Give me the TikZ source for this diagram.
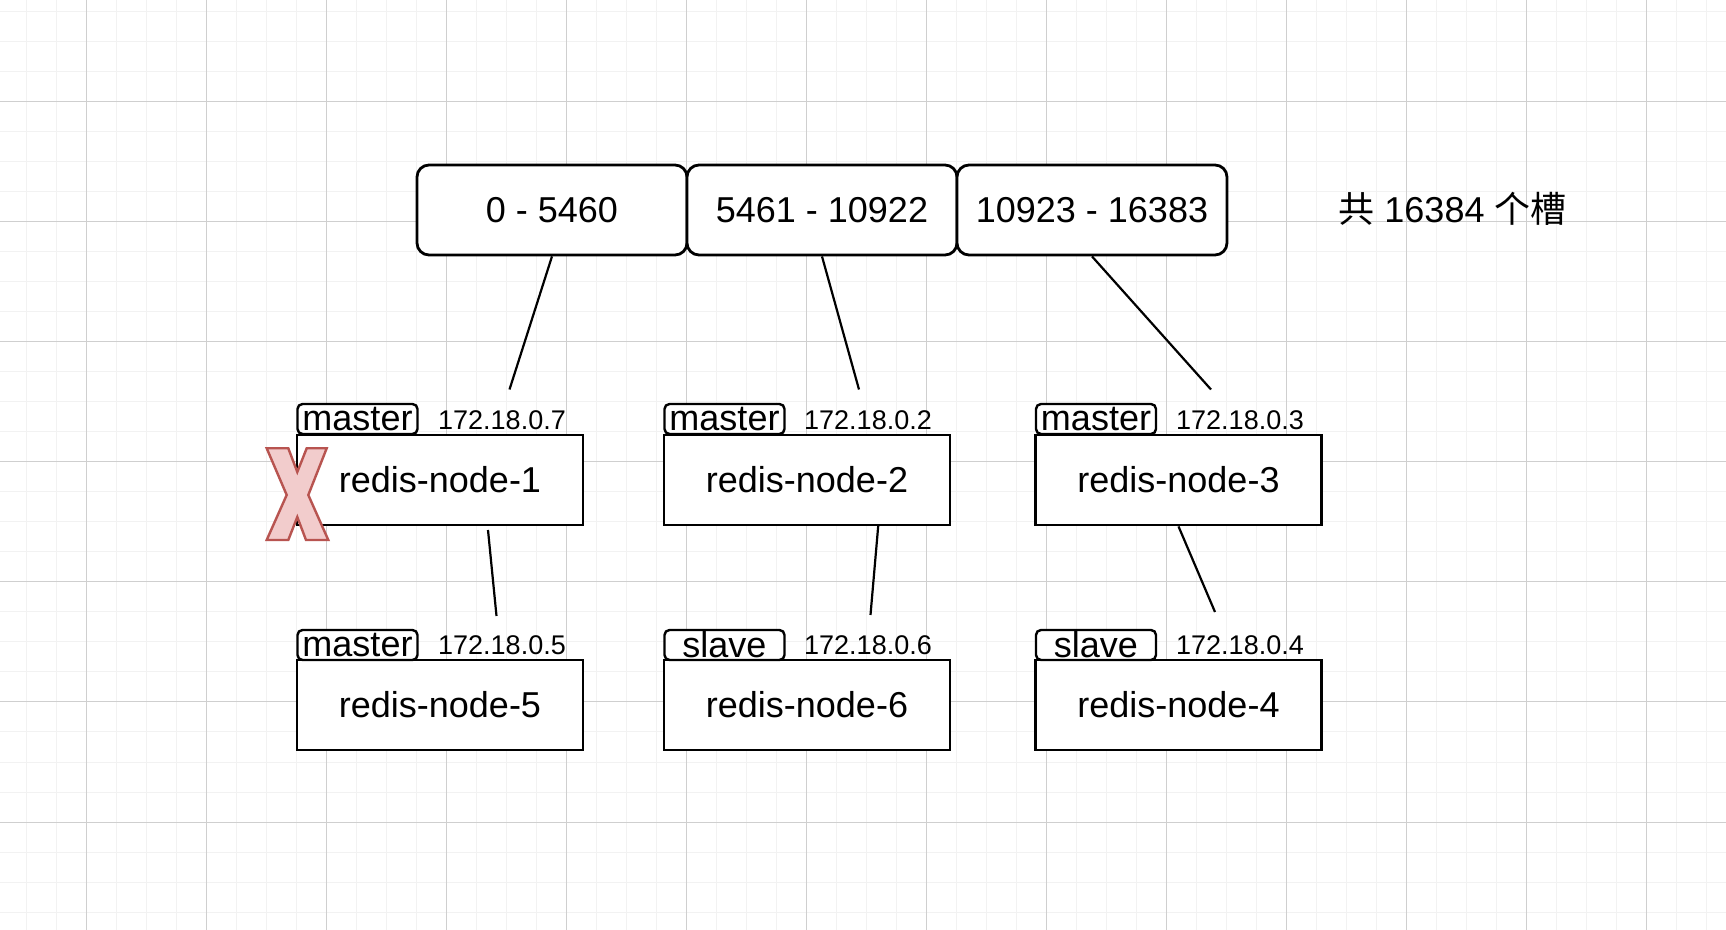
\documentclass[tikz,border=0pt]{standalone}
\usepackage{fontspec}
\setmainfont{Liberation Sans}
\newfontfamily\cjk{Noto Sans CJK SC}
\begin{document}
\begin{tikzpicture}[x=0.5pt,y=-0.5pt,
  minorgrid/.style={draw=black!5, line width=0.5pt},
  majorgrid/.style={draw=black!19, line width=0.5pt},
  slot/.style={draw, line width=1.4pt, rounded corners=6pt, fill=white,
    minimum width=135pt, minimum height=45pt, inner sep=0pt,
    font=\fontsize{18}{21}\selectfont},
  redis/.style={draw, line width=1.4pt, fill=white,
    minimum width=143pt, minimum height=45pt, inner sep=0pt,
    font=\fontsize{18}{21}\selectfont},
  tagbox/.style={draw, line width=1.2pt, rounded corners=2.5pt, fill=white,
    minimum width=60pt, minimum height=15pt, inner sep=0pt,
    font=\fontsize{18}{21}\selectfont},
  ip/.style={inner sep=0pt, font=\fontsize{13.5}{16}\selectfont},
  note/.style={inner sep=0pt, font=\fontsize{18}{21}\selectfont},
  link/.style={line width=1.1pt},
  crossmark/.style={draw={rgb,255:red,184;green,84;blue,80}, fill={rgb,255:red,242;green,204;blue,204}, line width=1.2pt, line join=miter}]
\useasboundingbox (0,0) rectangle (1726,930);
\fill[white] (0,0) rectangle (1726,930);
% grid
\foreach \k in {0,...,56} \draw[minorgrid] ({26.7+30*\k},0) -- ({26.7+30*\k},930);
\foreach \k in {0,...,30} \draw[minorgrid] (0,{12+30*\k}) -- (1726,{12+30*\k});
\foreach \k in {0,...,13} \draw[majorgrid] ({86.7+120*\k},0) -- ({86.7+120*\k},930);
\foreach \k in {0,...,6} \draw[majorgrid] (0,{102+120*\k}) -- (1726,{102+120*\k});

% slot ranges
\node[slot] (s1) at (552,210) {0 - 5460};
\node[slot] (s2) at (822,210) {5461 - 10922};
\node[slot] (s3) at (1092,210) {10923 - 16383};
\node[note] (total) at (1452.5,209) {{\cjk 共} 16384 {\cjk 个槽}};

% redis nodes
\node[redis] (n1) at (440,480) {redis-node-1};
\node[redis] (n2) at (807,480) {redis-node-2};
\node[redis] (n3) at (1178.5,480) {redis-node-3};
\node[redis] (n5) at (440,705) {redis-node-5};
\node[redis] (n6) at (807,705) {redis-node-6};
\node[redis] (n4) at (1178.5,705) {redis-node-4};

% role tags
\node[tagbox] (t1) at (357.5,419) {\smash{\raisebox{-0.33em}{master}}};
\node[tagbox] (t2) at (724.5,419) {\smash{\raisebox{-0.33em}{master}}};
\node[tagbox] (t3) at (1096,419) {\smash{\raisebox{-0.33em}{master}}};
\node[tagbox] (t5) at (357.5,645) {\smash{\raisebox{-0.33em}{master}}};
\node[tagbox] (t6) at (724.5,645) {\smash{\raisebox{-0.36em}{slave}}};
\node[tagbox] (t4) at (1096,645) {\smash{\raisebox{-0.36em}{slave}}};

% ip labels
\node[ip] (ip1) at (502,420.5) {172.18.0.7};
\node[ip] (ip2) at (868,420.5) {172.18.0.2};
\node[ip] (ip3) at (1240,420.5) {172.18.0.3};
\node[ip] (ip5) at (502,645) {172.18.0.5};
\node[ip] (ip6) at (868,645) {172.18.0.6};
\node[ip] (ip4) at (1240,645) {172.18.0.4};

% connector ends
\coordinate (e1) at (509.5,389.5);
\coordinate (e2) at (859,389.5);
\coordinate (e3) at (1211,389.5);
\coordinate (b1) at (488,530);
\coordinate (f1) at (496.5,616);
\coordinate (b2) at (878.3,525);
\coordinate (f2) at (870.5,615);
\coordinate (f3) at (1215,612);

\draw[link] (s1.south) -- (e1);
\draw[link] (s2.south) -- (e2);
\draw[link] (s3.south) -- (e3);
\draw[link] (b1) -- (f1);
\draw[link] (b2) -- (f2);
\draw[link] (n3.south) -- (f3);

% failure cross
\draw[crossmark] (266.7,448.3) -- (288.3,448.3) -- (297.3,472) -- (306.7,448.3) -- (326.7,448.3)
  -- (308.3,495) -- (328.3,540) -- (306,540) -- (297.3,517) -- (288.3,540) -- (266.7,540)
  -- (286.7,495) -- cycle;
\end{tikzpicture}
\end{document}
